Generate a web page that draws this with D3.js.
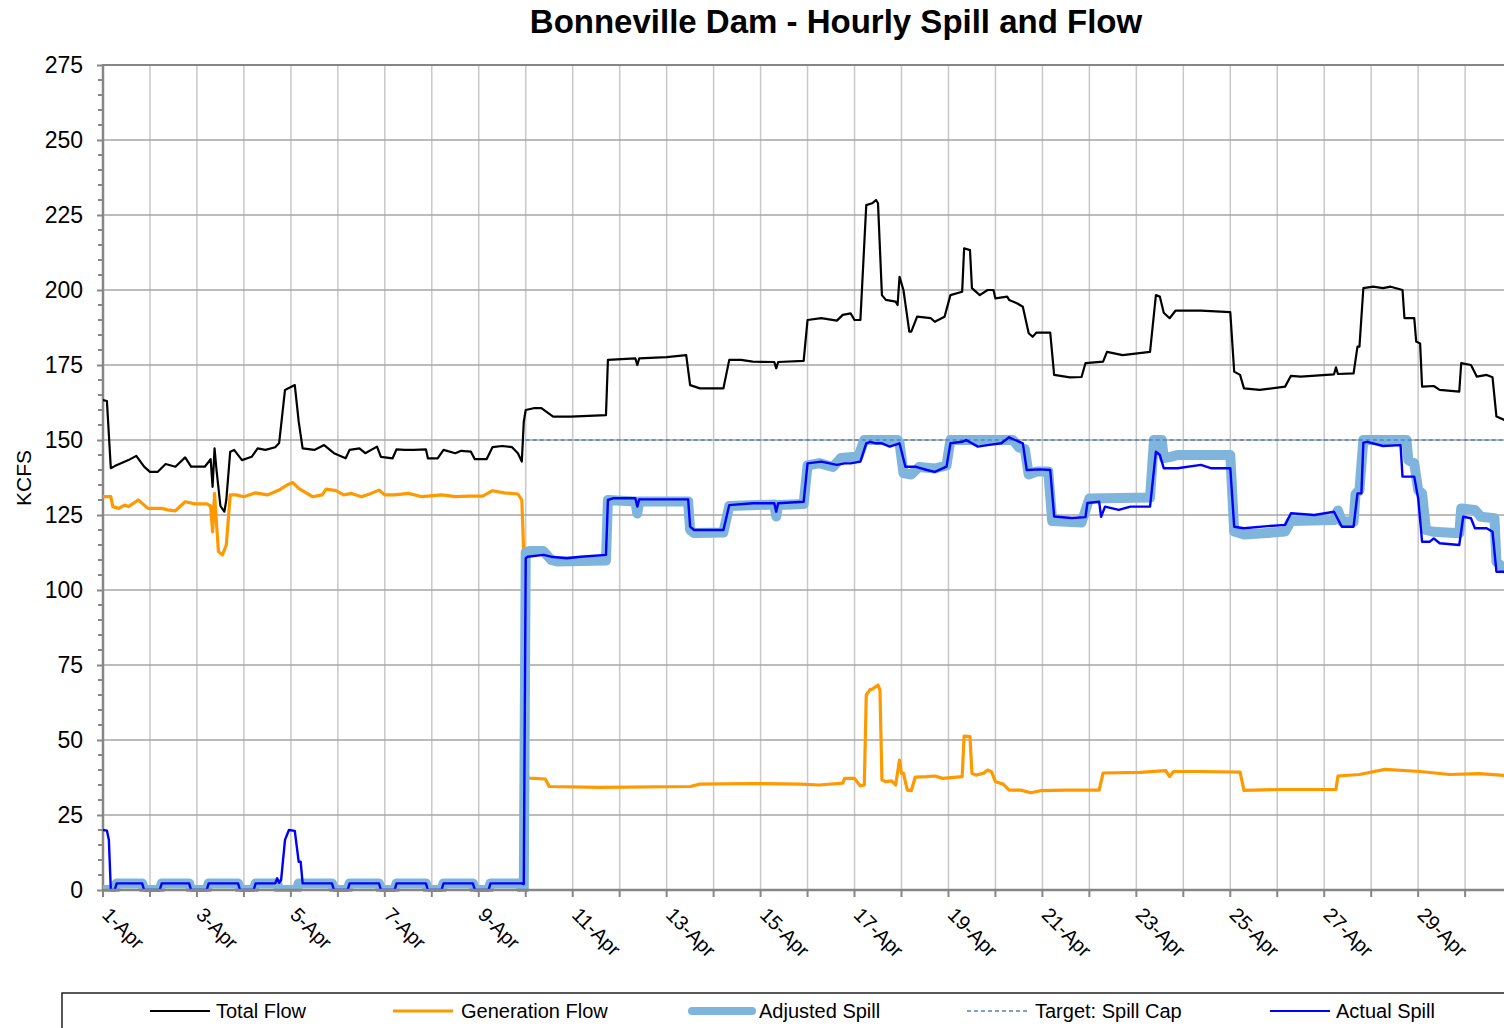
<!DOCTYPE html>
<html>
<head>
<meta charset="utf-8" />
<title>Bonneville Dam - Hourly Spill and Flow</title>
<script src="https://cdn.jsdelivr.net/npm/d3@7"></script>
<style>
  body { margin: 0; background: #fff; }
  text { font-family: "Liberation Sans", Arial, sans-serif; }
</style>
</head>
<body>
<svg id="chart" width="1504" height="1028"></svg>
<script>
// hours since 1-Apr 00:00, kcfs
var totalFlow = [
  [0,163.3],[2,163],[4,140.6],[6,141.3],[13,143.3],[17,144.7],[21,141.1],[24,139.4],[28,139.4],
  [32,142],[37,141.1],[42,144.2],[45,141.1],[52,141.1],[55,143.6],[56,134.4],[57,147.2],[58,140],
  [60,128],[62,126.1],[63,130],[65,146.1],[67,146.7],[71,143.3],[76,144.4],[79,147.2],[83,146.7],
  [88,147.6],[90,149],[93,166.7],[98,168.3],[100,156.1],[102,147.2],[108,146.7],[113,148.3],
  [118,145.6],[124,143.9],[126,146.7],[131,147.2],[134,145.6],[140,147.8],[142,144.4],[148,143.9],
  [150,146.9],[154,146.7],[159,146.7],[165,146.9],[166,143.9],[171,143.9],[174,146.7],[180,145.6],
  [183,146.4],[188,146.1],[190,143.6],[196,143.6],[199,147.6],[204,148],[209,147.6],[212,145.6],
  [214,142.8],[215,156.1],[216,160],[220,160.6],[224,160.6],[230,157.8],[239,157.8],[257,158.3],
  [258,176.7],[272,177.2],[273,175],[274,177.2],[288,177.6],[298,178.3],[300,168.3],[305,167.2],
  [317,167.2],[320,176.7],[326,176.7],[332,176.1],[343,176],[344,173.9],[345,176],[358,176.4],
  [360,190],[367,190.6],[375,189.8],[378,191.7],[382,192.2],[384,190],[387,190],[390,228.3],
  [393,228.9],[395,230],[396,228.9],[398,198.3],[400,196.7],[405,196.1],[406,195],[407,204.4],
  [409,200],[412,186.1],[413,186.1],[416,191.1],[423,190.6],[425,189.4],[430,191.1],[433,198.3],
  [439,199.4],[440,213.9],[443,213.3],[444,200.6],[448,198.3],[452,200],[455,200],[456,197.2],
  [462,197.8],[463,196.7],[467,195.6],[470,194.4],[473,185.6],[475,184.4],[477,185.8],[484,185.8],
  [486,171.7],[494,170.9],[500,171],[502,175.6],[511,176.1],[513,179.4],[521,178.3],[535,179.4],
  [538,198.3],[540,197.8],[542,192.4],[545,190.6],[548,193.1],[561,193.1],[576,192.6],[578,172.8],
  [581,171.7],[583,167.2],[591,166.7],[604,167.8],[607,171.4],[612,171.1],[629,171.9],[630,174.2],
  [631,172],[639,172.2],[641,181.1],[642,181.1],[644,200.6],[649,201.1],[654,200.6],[658,201.1],
  [664,200],[665,190.6],[670,190.6],[671,182.8],[673,182.2],[674,167.8],[680,168],[683,166.7],
  [693,166.1],[694,175.6],[699,175],[702,171.1],[707,171.7],[710,170.9],[712,157.8],[716,156.7]
];

var generationFlow = [
  [0,131.1],[4,131.1],[5,127.8],[8,127.2],[11,128.3],[13,127.8],[18,130],[23,127.2],[30,127.2],
  [33,126.7],[37,126.4],[42,129.4],[47,128.7],[53,128.7],[55,128],[56,119.4],[57,132.2],[58,122],
  [59,112.8],[61,111.7],[63,115],[65,131.7],[68,131.7],[72,131.1],[78,132.4],[84,131.7],[90,133.3],
  [94,135],[97,135.8],[100,133.9],[107,131.1],[112,131.7],[114,133.6],[119,133.1],[123,131.7],
  [127,132.2],[132,131.1],[137,132.2],[141,133.3],[144,131.7],[149,131.7],[156,132.2],[163,131.1],
  [173,131.7],[180,131.1],[187,131.3],[194,131.3],[199,133.1],[205,132.4],[212,132],[214,130],
  [215,112],[216,37.5],[218,37.3],[226,37],[228,34.5],[254,34.2],[300,34.5],[305,35.3],[331,35.5],
  [356,35.3],[366,35],[378,35.6],[379,37.2],[384,37.2],[387,34.7],[389,35],[390,65],[392,66.9],
  [393,66.9],[396,68.3],[397,66.7],[398,36.7],[400,36.1],[403,36.4],[405,35],[407,43.3],[408,38.9],
  [409,38.9],[411,33.3],[413,33.1],[415,37.6],[421,37.8],[425,38],[429,37.2],[439,37.8],[440,51.3],
  [443,51.1],[444,38.9],[446,38.3],[450,38.9],[452,40],[454,39.4],[456,36.1],[460,35.3],[463,33.3],
  [469,33.3],[474,32.4],[479,33.1],[492,33.3],[509,33.3],[511,39],[530,39.2],[543,39.8],[545,37.8],
  [547,39.5],[561,39.5],[581,39.3],[583,33.2],[601,33.5],[630,33.5],[631,38],[642,38.5],[655,40.2],
  [673,39.5],[688,38.5],[703,38.8],[716,38.2]
];

var adjustedSpill = [
  [0,0],[6,0],[7,2.2],[20,2.2],[21,0],[29,0],[30,2.2],[44,2.2],[45,0],[53,0],[54,2.2],[69,2.2],
  [70,0],[77,0],[78,2.2],[89,2.2],[90,0],[99,0],[100,2.2],[117,2.2],[118,0],[125,0],[126,2.2],
  [141,2.2],[142,0],[149,0],[150,2.2],[165,2.2],[166,0],[173,0],[174,2.2],[189,2.2],[190,0],
  [197,0],[198,2.2],[213,2.2],[214,0],[215,0],[216,112.5],[218,113],[225,113],[229,110],[232,109.5],
  [257,109.8],[258,130],[272,129.5],[273,125.5],[274,129.5],[299,129.5],[300,120],[302,119],
  [317,119.2],[320,128],[343,128.5],[344,124.5],[345,128.3],[358,128.7],[360,141.5],[366,142.3],
  [373,141],[377,144],[386,144.5],[389,150],[406,150],[407,149],[409,139],[413,138.5],[417,141],
  [425,140.5],[431,141.5],[433,150],[465,150],[468,147.5],[471,147],[473,138.5],[477,139.5],
  [483,139.5],[485,123],[500,122.5],[502,126.5],[504,130.5],[535,130.8],[537,150],[541,150],
  [542,144],[545,144.3],[549,145],[576,145],[578,119.5],[583,118.5],[595,119],[604,119.5],[607,123],
  [629,123.3],[631,126.5],[633,122.8],[639,122.8],[640,132],[642,133.3],[644,150],[666,150],
  [667,143.3],[670,142.2],[672,133.3],[674,132.2],[676,120],[680,119.4],[693,118.9],[694,127.2],
  [701,126.7],[704,124.4],[711,123.9],[712,109.4],[716,107.2]
];

var actualSpill = [
  [0,20],[2,19.8],[3,16.7],[4,0],[6,0],[7,2.2],[20,2.2],[21,0],[29,0],[30,2.2],[44,2.2],[45,0],
  [53,0],[54,2.2],[69,2.2],[70,0],[77,0],[78,2.2],[88,2.2],[89,3.9],[90,2.4],[91,3.3],[93,16.7],
  [95,20],[98,19.7],[100,9.4],[101,9.4],[102,2.2],[117,2.2],[118,0],[125,0],[126,2.2],[141,2.2],
  [142,0],[149,0],[150,2.2],[165,2.2],[166,0],[173,0],[174,2.2],[189,2.2],[190,0],[197,0],[198,2.2],
  [214,2.2],[215,2],[216,110.6],[217,111.1],[225,111.7],[229,111.1],[237,110.6],[244,111.1],
  [257,111.7],[258,130],[261,130.6],[272,130.6],[273,127.8],[274,130.2],[299,130.2],[300,121.1],
  [302,120],[317,120],[320,128.3],[332,128.9],[343,128.9],[344,126.1],[345,128.9],[358,129.4],
  [360,142.2],[367,142.8],[375,141.7],[379,142.2],[382,142.2],[387,142.8],[390,148.9],[392,149.4],
  [395,148.9],[398,148.9],[402,147.8],[407,148.9],[410,141.1],[415,141.1],[421,140],[425,139.4],
  [431,141.1],[433,148.9],[439,149.4],[441,150],[447,147.8],[452,148.3],[459,148.9],[463,150.9],
  [466,150],[470,148.9],[472,140],[479,140.2],[484,140],[486,124.5],[495,124],[502,124.3],[503,129],
  [509,129.4],[510,124.4],[512,127.8],[519,126.7],[525,127.8],[535,127.8],[538,146.1],[540,145],
  [542,140.6],[549,140.6],[561,141.7],[566,140.6],[576,140.6],[578,121.1],[583,120.6],[595,121.3],
  [604,121.7],[607,125.6],[619,125],[629,126.1],[633,121.1],[639,121.1],[641,132.2],[643,132.2],
  [644,149.1],[646,149.4],[654,148],[663,148.3],[664,137.8],[670,137.8],[672,130.6],[674,116.1],
  [678,116.1],[680,117.2],[683,115.6],[693,115],[695,124.4],[699,123.9],[701,120.6],[707,120.6],
  [710,119.4],[712,106.1],[716,106.1]
];

var spillCap = [[216,150],[720,150]];

var dayLabels = ["1-Apr","3-Apr","5-Apr","7-Apr","9-Apr","11-Apr","13-Apr","15-Apr",
  "17-Apr","19-Apr","21-Apr","23-Apr","25-Apr","27-Apr","29-Apr"];
var yTicks = [0,25,50,75,100,125,150,175,200,225,250,275];

var legendItems = [
  {name:"Total Flow", color:"#000000", width:2, dash:null, lx:150, tx:216},
  {name:"Generation Flow", color:"#ff9900", width:3, dash:null, lx:393, tx:461},
  {name:"Adjusted Spill", color:"#7fb4dc", width:8, dash:null, lx:692, tx:759},
  {name:"Target: Spill Cap", color:"#4f81bd", width:1.5, dash:"4,3", lx:967, tx:1035},
  {name:"Actual Spill", color:"#0000ff", width:2, dash:null, lx:1270, tx:1336}
];

var svg = d3.select("#chart");
var plotLeft = 103, plotTop = 65, plotBottom = 890;
var x = d3.scaleLinear().domain([0, 720]).range([plotLeft, plotLeft + 30 * 46.97]);
var y = d3.scaleLinear().domain([0, 275]).range([plotBottom, plotTop]);

svg.append("defs").append("clipPath").attr("id", "plotclip")
  .append("rect").attr("x", plotLeft).attr("y", plotTop - 10)
  .attr("width", 1504 - plotLeft).attr("height", plotBottom - plotTop + 12);

// title
svg.append("text").attr("x", 836).attr("y", 33).attr("text-anchor", "middle")
  .style("font-size", "33px").style("font-weight", "bold").text("Bonneville Dam - Hourly Spill and Flow");

// vertical gridlines each day
var days = d3.range(0, 31);
svg.append("g").selectAll("line").data(days).enter().append("line")
  .attr("x1", function(d){ return x(d * 24); }).attr("x2", function(d){ return x(d * 24); })
  .attr("y1", plotTop).attr("y2", plotBottom)
  .attr("stroke", "#c8c8c8").attr("stroke-width", 1.5);

// horizontal gridlines
svg.append("g").selectAll("line").data(yTicks).enter().append("line")
  .attr("x1", plotLeft).attr("x2", 1504)
  .attr("y1", function(d){ return y(d); }).attr("y2", function(d){ return y(d); })
  .attr("stroke", "#a6a6a6").attr("stroke-width", 1.5);

// y axis
var yAxis = d3.axisLeft(y).tickValues(yTicks).tickSize(6).tickPadding(14).tickFormat(d3.format("d"));
var gy = svg.append("g").attr("transform", "translate(" + plotLeft + ",0)").call(yAxis);
gy.select(".domain").remove();
gy.selectAll(".tick line").attr("stroke", "#868686").attr("stroke-width", 2);
gy.selectAll(".tick text").style("font-size", "23px").attr("fill", "#000")
  .style("font-family", "'Liberation Sans', Arial, sans-serif");
var minor = d3.range(0, 276, 5).filter(function(d){ return d % 25 !== 0; });
svg.append("g").selectAll("line").data(minor).enter().append("line")
  .attr("x1", plotLeft - 5).attr("x2", plotLeft)
  .attr("y1", function(d){ return y(d); }).attr("y2", function(d){ return y(d); })
  .attr("stroke", "#868686").attr("stroke-width", 2);
svg.append("line").attr("x1", plotLeft).attr("x2", plotLeft).attr("y1", plotTop - 1).attr("y2", plotBottom + 1)
  .attr("stroke", "#868686").attr("stroke-width", 2.5);
svg.append("line").attr("x1", plotLeft).attr("x2", 1504).attr("y1", plotTop).attr("y2", plotTop)
  .attr("stroke", "#868686").attr("stroke-width", 2);

svg.append("text").attr("transform", "translate(31,478) rotate(-90)").attr("text-anchor", "middle")
  .style("font-size", "21px").text("KCFS");

// lines
var line = d3.line().x(function(d){ return x(d[0]); }).y(function(d){ return y(d[1]); });
var plot = svg.append("g").attr("clip-path", "url(#plotclip)");
function drawSeries(data, color, width, dash) {
  var p = plot.append("path").datum(data).attr("d", line)
    .attr("fill", "none").attr("stroke", color).attr("stroke-width", width)
    .attr("stroke-linejoin", "round").attr("stroke-linecap", "round");
  if (dash) p.attr("stroke-dasharray", dash).attr("stroke-linecap", "butt");
}
drawSeries(totalFlow, "#000000", 2.2);
drawSeries(generationFlow, "#ff9900", 3.2);
drawSeries(adjustedSpill, "#7fb4dc", 10);
drawSeries(spillCap, "#4f81bd", 1.5, "4,3");
drawSeries(actualSpill, "#0000ff", 2.4);

// x axis
svg.append("line").attr("x1", plotLeft).attr("x2", 1504).attr("y1", plotBottom).attr("y2", plotBottom)
  .attr("stroke", "#868686").attr("stroke-width", 2.5);
svg.append("g").selectAll("line").data(days).enter().append("line")
  .attr("x1", function(d){ return x(d * 24); }).attr("x2", function(d){ return x(d * 24); })
  .attr("y1", plotBottom).attr("y2", plotBottom + 7)
  .attr("stroke", "#868686").attr("stroke-width", 2);
svg.append("g").selectAll("text").data(dayLabels).enter().append("text")
  .attr("transform", function(d, i){ return "translate(" + (x(i * 48) + 3) + "," + (plotBottom + 21) + ") rotate(45)"; })
  .attr("dy", "0.35em").style("font-size", "20px").text(function(d){ return d; });

// legend
svg.append("rect").attr("x", 62).attr("y", 993).attr("width", 1460).attr("height", 60)
  .attr("fill", "#fff").attr("stroke", "#222").attr("stroke-width", 1.5);
var lg = svg.append("g").selectAll("g").data(legendItems).enter().append("g");
lg.append("line").attr("x1", function(d){ return d.lx; }).attr("x2", function(d){ return d.lx + 60; })
  .attr("y1", 1011).attr("y2", 1011)
  .attr("stroke", function(d){ return d.color; }).attr("stroke-width", function(d){ return d.width; })
  .attr("stroke-dasharray", function(d){ return d.dash; })
  .attr("stroke-linecap", function(d){ return d.width > 4 ? "round" : "butt"; });
lg.append("text").attr("x", function(d){ return d.tx; }).attr("y", 1018)
  .style("font-size", "20px").text(function(d){ return d.name; });
</script>
</body>
</html>
